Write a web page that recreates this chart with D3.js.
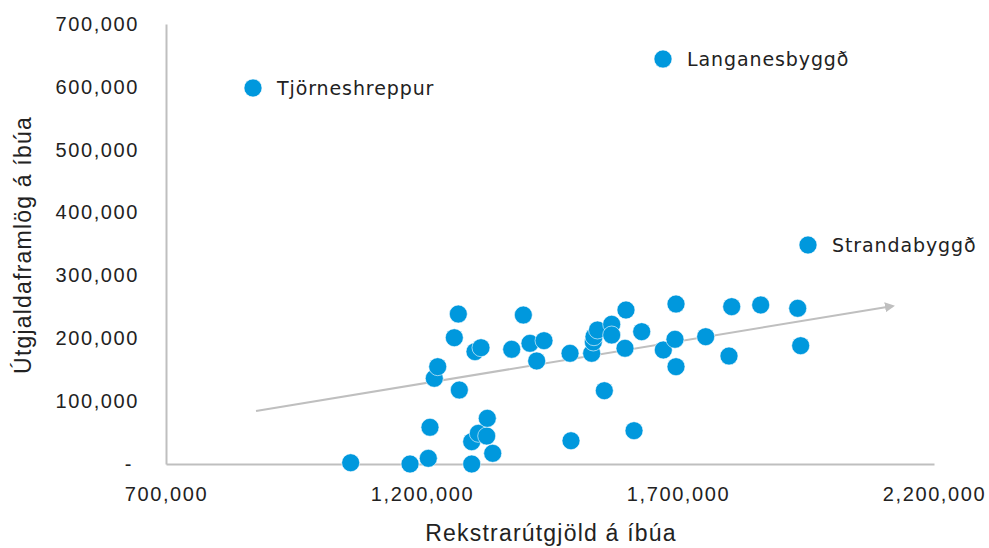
<!DOCTYPE html>
<html>
<head>
<meta charset="utf-8">
<script src="https://cdn.jsdelivr.net/npm/d3@7"></script>
<style>
  body { margin: 0; background: #fff; }
  .tick-label { font-family: "Liberation Sans", Arial, sans-serif; font-size: 20px; letter-spacing: 1.6px; fill: #222; }
  .axis-title { font-family: "Liberation Sans", Arial, sans-serif; font-size: 23px; letter-spacing: 1.2px; fill: #222; }
  .point-label { font-family: "DejaVu Sans", sans-serif; font-size: 19px; letter-spacing: 0.9px; fill: #222; }
</style>
</head>
<body>
<div id="chart"></div>
<script>
// data
const spend = [1060700, 1176600, 1212300, 1215600, 1224000, 1230700, 1263100, 1270900, 1272900,
  1297100, 1297100, 1303500, 1310000, 1315200, 1326400, 1327500, 1338100, 1375200, 1397900,
  1410900, 1424000, 1438300, 1489100, 1491000, 1531400, 1534600, 1535900, 1542800, 1556100,
  1570500, 1570500, 1596500, 1598400, 1614100, 1629100, 1671300, 1694100, 1696100, 1696100,
  1754100, 1799600, 1804900, 1861500, 1933800, 1939600, 869900, 1670700, 1953900];
const grants = [2000, 0, 9000, 58400, 136300, 154800, 200900, 238600, 117700,
  0, 35500, 178700, 48800, 185000, 44500, 72700, 17000, 182500, 237000,
  192000, 163900, 196200, 176100, 37000, 176100, 194100, 202500, 213200, 116600,
  222300, 205200, 184100, 245000, 53000, 210500, 181400, 198400, 254500, 154800,
  202500, 171800, 250300, 253000, 247700, 188200, 598200, 644300, 348400];
const names = ["", "", "", "", "", "", "", "", "", "", "", "", "", "", "", "", "", "", "",
  "", "", "", "", "", "", "", "", "", "", "", "", "", "", "", "", "", "", "", "",
  "", "", "", "", "", "", "Tjörneshreppur", "Langanesbyggð", "Strandabyggð"];
const trendX = [875800, 2119900];
const trendY = [84300, 251400];
const xTicks = [700000, 1200000, 1700000, 2200000];
const yTicks = [0, 100000, 200000, 300000, 400000, 500000, 600000, 700000];

const margin = { top: 24, right: 55, bottom: 84, left: 166 },
      width = 989 - margin.left - margin.right,
      height = 548 - margin.top - margin.bottom;

const svg = d3.select("#chart").append("svg")
    .attr("width", 989)
    .attr("height", 548);

const g = svg.append("g")
    .attr("transform", `translate(${margin.left},${margin.top})`);

const x = d3.scaleLinear().domain([700000, 2200000]).range([0, width]);
const y = d3.scaleLinear().domain([0, 700000]).range([height, 0]);
const fmt = d3.format(",");

// axes, no tick marks
const xAxis = g.append("g")
    .attr("transform", `translate(0,${height})`)
    .call(d3.axisBottom(x).tickValues(xTicks).tickSize(0).tickPadding(18).tickFormat(fmt));
const yAxis = g.append("g")
    .call(d3.axisLeft(y).tickValues(yTicks).tickSize(0).tickPadding(27)
      .tickFormat(d => d === 0 ? "-" : fmt(d)));

[xAxis, yAxis].forEach(a => {
  a.select(".domain").attr("stroke", "#bfbfbf").attr("stroke-width", 2);
  a.selectAll("text").attr("class", "tick-label").attr("font-size", null).attr("font-family", null);
});
xAxis.selectAll("text").attr("dy", "0.95em");
yAxis.selectAll("text").filter(d => d === 0).attr("dx", -6);

// trend arrow
svg.append("defs").append("marker")
    .attr("id", "arrow")
    .attr("viewBox", "0 0 10 10")
    .attr("refX", 8).attr("refY", 5)
    .attr("markerWidth", 5).attr("markerHeight", 5)
    .attr("orient", "auto")
  .append("path")
    .attr("d", "M0,0 L10,5 L0,10 z")
    .attr("fill", "#bfbfbf");

g.append("line")
    .attr("x1", x(trendX[0])).attr("y1", y(trendY[0]))
    .attr("x2", x(trendX[1])).attr("y2", y(trendY[1]))
    .attr("stroke", "#bfbfbf")
    .attr("stroke-width", 2)
    .attr("marker-end", "url(#arrow)");

// points
const data = spend.map((s, i) => ({ spend: s, grant: grants[i], name: names[i] }));

g.selectAll("circle")
    .data(data)
    .enter()
    .append("circle")
    .attr("cx", d => x(d.spend))
    .attr("cy", d => y(d.grant))
    .attr("r", 9)
    .attr("fill", "#0098dd")
    .attr("stroke", "#fff")
    .attr("stroke-width", 0.6);

g.selectAll(".point-label")
    .data(data.filter(d => d.name))
    .enter()
    .append("text")
    .attr("class", "point-label")
    .attr("x", d => x(d.spend) + 24)
    .attr("y", d => y(d.grant))
    .attr("dominant-baseline", "central")
    .text(d => d.name);

// axis titles
svg.append("text")
    .attr("class", "axis-title")
    .attr("text-anchor", "middle")
    .attr("x", 551)
    .attr("y", 541)
    .text("Rekstrarútgjöld á íbúa");

svg.append("text")
    .attr("class", "axis-title")
    .attr("text-anchor", "middle")
    .attr("transform", "rotate(-90)")
    .attr("x", -245)
    .attr("y", 31)
    .text("Útgjaldaframlög á íbúa");
</script>
</body>
</html>
